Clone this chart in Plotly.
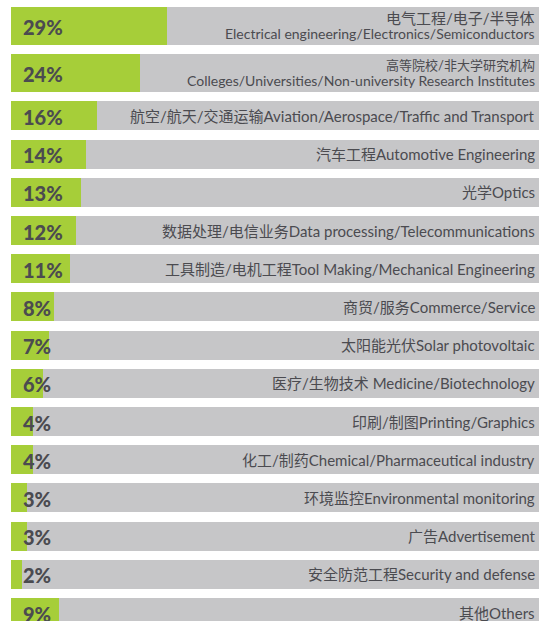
import plotly.graph_objects as go

values = [29, 24, 16, 14, 13, 12, 11, 8, 7, 6, 4, 4, 3, 3, 2, 9]
labels_zh = ["电气工程/电子/半导体", "高等院校/非大学研究机构", "航空/航天/交通运输", "汽车工程", "光学",
             "数据处理/电信业务", "工具制造/电机工程", "商贸/服务", "太阳能光伏", "医疗/生物技术 ",
             "印刷/制图", "化工/制药", "环境监控", "广告", "安全防范工程", "其他"]
labels_en = ["Electrical engineering/Electronics/Semiconductors",
             "Colleges/Universities/Non-university Research Institutes",
             "Aviation/Aerospace/Traffic and Transport", "Automotive Engineering", "Optics",
             "Data processing/Telecommunications", "Tool Making/Mechanical Engineering",
             "Commerce/Service", "Solar photovoltaic", "Medicine/Biotechnology",
             "Printing/Graphics", "Chemical/Pharmaceutical industry", "Environmental monitoring",
             "Advertisement", "Security and defense", "Others"]
two_line = [True, True] + [False] * 14

GREEN = "#a6ce39"
GRAY = "#c6c6c8"
TEXT = "#4b4b50"
X_MAX = 98.1
FONT = "Lato, Noto Sans CJK SC"
ZH_SIZE_DEFAULT = 15
ZH_SIZE_OVERRIDE = {1: 13}  # second heading is set smaller in the original

# layout of rows (pixel-like units on y axis)
thick = {True: 38, False: 29}
gap = 9.2
centers, widths = [], []
top = 0.0
for tl in two_line:
    h = thick[tl]
    centers.append(top + h / 2)
    widths.append(h)
    top += h + gap

fig = go.Figure()
fig.add_trace(go.Bar(x=[X_MAX] * len(values), y=centers, width=widths, orientation="h",
                     marker=dict(color=GRAY, line=dict(width=0)), hoverinfo="skip"))
fig.add_trace(go.Bar(x=values, y=centers, width=widths, orientation="h",
                     marker=dict(color=GREEN, line=dict(width=0)), hoverinfo="skip"))


def zh_span(s, size):
    return f"<span style='font-size:{size}px'>{s}</span>"


annotations = []
for i, (v, zh, en, tl, c) in enumerate(zip(values, labels_zh, labels_en, two_line, centers)):
    annotations.append(dict(x=0, y=c, xref="x", yref="y", text=f"{v}%", showarrow=False,
                            xanchor="left", yanchor="middle", xshift=10, yshift=-1,
                            font=dict(family="Lato", size=20, color=TEXT, weight=900)))
    zs = ZH_SIZE_OVERRIDE.get(i, ZH_SIZE_DEFAULT)
    if tl:
        common = dict(x=1, y=c, xref="paper", yref="y", showarrow=False,
                      xanchor="right", yanchor="middle", align="right", xshift=-2)
        annotations.append(dict(text=zh_span(zh, zs), yshift=8,
                                font=dict(family=FONT, size=14, color=TEXT), **common))
        annotations.append(dict(text=en, yshift=-7,
                                font=dict(family=FONT, size=14, color=TEXT), **common))
    else:
        annotations.append(dict(x=1, y=c, xref="paper", yref="y", showarrow=False,
                                xanchor="right", yanchor="middle", align="right", xshift=-2,
                                text=zh_span(zh, zs) + en,
                                font=dict(family=FONT, size=15, color=TEXT)))

fig.update_layout(
    width=539, height=621,
    margin=dict(l=11, r=0, t=0, b=0),
    barmode="overlay", bargap=0,
    showlegend=False,
    plot_bgcolor="white", paper_bgcolor="white",
    xaxis=dict(range=[0, X_MAX], visible=False, fixedrange=True),
    yaxis=dict(range=[614, -7], visible=False, fixedrange=True),
    annotations=annotations,
)

fig.write_html("out.html", config={"displayModeBar": False},
               post_script="document.body.style.margin='0';document.body.style.overflow='hidden';")
